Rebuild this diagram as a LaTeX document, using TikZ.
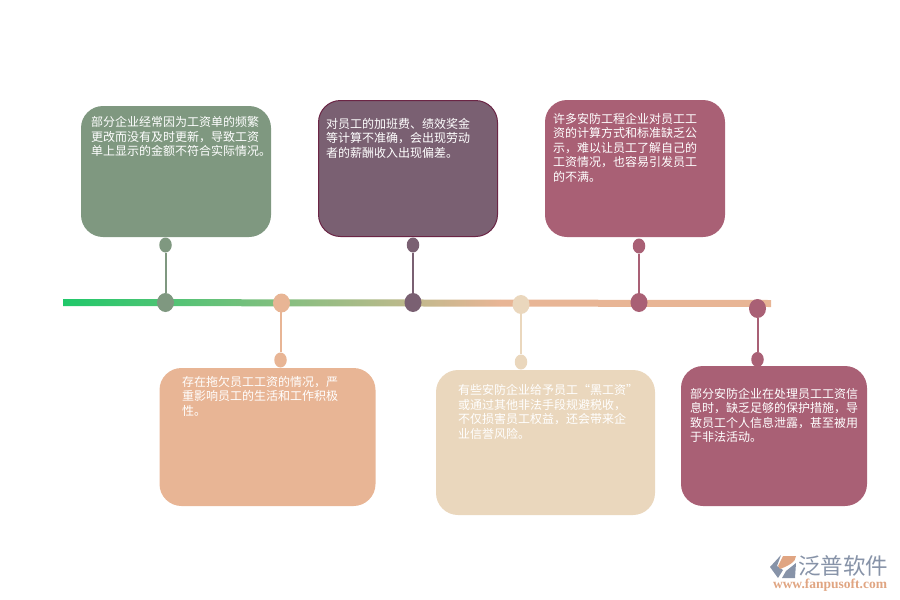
\documentclass[tikz,border=0pt]{standalone}
\usepackage{fontspec}
\newfontfamily\cjk{Noto Sans CJK SC}
\setmainfont{Liberation Serif}
\usetikzlibrary{calc,shapes.geometric}
\definecolor{Sage}{HTML}{7F9880}
\definecolor{Plum}{HTML}{7A6072}
\definecolor{PlumEdge}{HTML}{6B2545}
\definecolor{Rose}{HTML}{A96075}
\definecolor{Peach}{HTML}{E8B595}
\definecolor{Sand}{HTML}{EAD7BD}
\definecolor{Spring}{HTML}{20C86A}
\definecolor{LogoBlue}{HTML}{8793A8}
\definecolor{LogoOrange}{HTML}{E0A582}
\tikzset{
  card/.style={rounded corners=22pt, inner sep=0pt, outer sep=0pt},
  cardtext/.style={anchor=north west, inner sep=0pt, align=left, text=white, font=\cjk\fontsize{12}{14.5}\selectfont},
  bigdot/.style={ellipse, inner sep=0pt, minimum width=17pt, minimum height=19pt},
  smalldot/.style={ellipse, inner sep=0pt, minimum width=12.5pt, minimum height=15pt},
  stem/.style={line width=2pt}
}
\begin{document}
\begin{tikzpicture}[x=1pt, y=-1pt]
    \useasboundingbox (0,0) rectangle (900,600);
    % cards
    \node[card, fill=Sage, minimum width=190pt, minimum height=131pt] (carda) at (176,171.5) {};
    \node[card, fill=Plum, draw=PlumEdge, line width=1pt, minimum width=179pt, minimum height=136pt] (cardb) at (408,168.5) {};
    \node[card, fill=Rose, minimum width=180pt, minimum height=137pt] (cardc) at (635,168.5) {};
    \node[card, fill=Peach, minimum width=216pt, minimum height=138pt] (cardd) at (267.5,437) {};
    \node[card, fill=Sand, minimum width=219pt, minimum height=145pt] (carde) at (545.5,442.5) {};
    \node[card, fill=Rose, minimum width=186pt, minimum height=140pt] (cardf) at (774,436) {};
    % texts
    \node[cardtext] (texta) at (91,116.5) {部分企业经常因为工资单的频繁\\更改而没有及时更新，导致工资\\单上显示的金额不符合实际情况。};
    \node[cardtext] (textb) at (326,118) {对员工的加班费、绩效奖金\\等计算不准确，会出现劳动\\者的薪酬收入出现偏差。};
    \node[cardtext] (textc) at (553,113) {许多安防工程企业对员工工\\资的计算方式和标准缺乏公\\示，难以让员工了解自己的\\工资情况，也容易引发员工\\的不满。};
    \node[cardtext] (textd) at (182,376) {存在拖欠员工工资的情况，严\\重影响员工的生活和工作积极\\性。};
    \node[cardtext] (texte) at (458,384.5) {有些安防企业给予员工“黑工资”\\或通过其他非法手段规避税收，\\不仅损害员工权益，还会带来企\\业信誉风险。};
    \node[cardtext] (textf) at (690,388) {部分安防企业在处理员工工资信\\息时，缺乏足够的保护措施，导\\致员工个人信息泄露，甚至被用\\于非法活动。};
    % timeline
    \shade[left color=Spring, right color=Peach] (63,299) -- (500,299.6) -- (500,306.6) -- (63,306) -- cycle;
    \fill[Peach] (500,299.6) -- (771,300) -- (771,307) -- (500,306.6) -- cycle;
    % dots and stems
    \node[bigdot, fill=Sage] (basea) at (165.5,302.5) {};
    \node[smalldot, fill=Sage] (topa) at (165.5,245) {};
    \draw[stem, Sage] (basea) -- (topa);
    \node[bigdot, fill=Peach] (based) at (281.5,303) {};
    \node[smalldot, fill=Peach] (topd) at (280.5,360) {};
    \draw[stem, Peach] (topd) -- (topd |- based);
    \node[bigdot, fill=Plum] (baseb) at (413,302.5) {};
    \node[smalldot, fill=Plum] (topb) at (413,245) {};
    \draw[stem, Plum] (baseb) -- (topb);
    \node[bigdot, fill=Sand] (basee) at (521,304.5) {};
    \node[smalldot, fill=Sand] (tope) at (521,362) {};
    \draw[stem, Sand] (basee) -- (tope);
    \node[bigdot, fill=Rose] (basec) at (639,302.5) {};
    \node[smalldot, fill=Rose] (topc) at (639,246) {};
    \draw[stem, Rose] (basec) -- (topc);
    \node[bigdot, fill=Rose] (basef) at (757.5,308.5) {};
    \node[smalldot, fill=Rose] (topf) at (757.5,359.5) {};
    \draw[stem, Rose] (basef) -- (topf);
    % logo
    \fill[LogoBlue] (781,555) -- (770,567) -- (778,578) -- (783,570) -- (777,566) -- cycle;
    \fill[LogoOrange] (783,556) -- (796,556) .. controls (796,562) and (788,566) .. (780,569) -- (778,566) -- cycle;
    \fill[LogoBlue] (796,563) -- (795,578) -- (782,578) -- (786,571) -- cycle;
    \node[inner sep=0pt, text=LogoBlue, font=\cjk\fontsize{22.5}{23}\selectfont] (logoname) at (843,566) {泛普软件};
    \node[inner sep=0pt, text=LogoOrange, font=\bfseries\fontsize{13.5}{14}\selectfont] (logourl) at (830,585.5) {www.fanpusoft.com};
\end{tikzpicture}
\end{document}
